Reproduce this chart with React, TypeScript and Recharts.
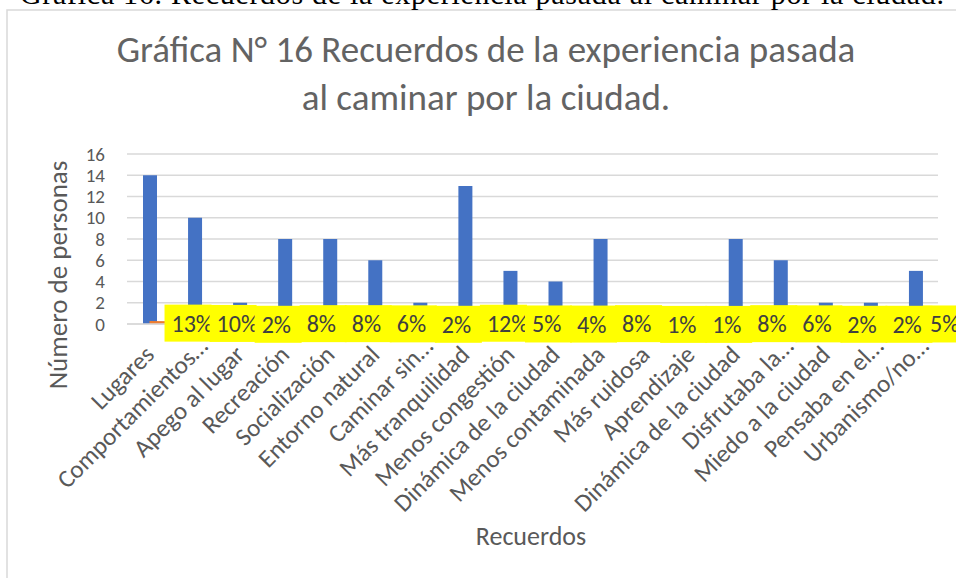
import { ComposedChart, Bar, Line, XAxis, YAxis, CartesianGrid } from 'recharts'

const categorias = [
  'Lugares', 'Comportamientos…', 'Apego al lugar', 'Recreación', 'Socialización',
  'Entorno natural', 'Caminar sin…', 'Más tranquilidad', 'Menos congestión',
  'Dinámica de la ciudad', 'Menos contaminada', 'Más ruidosa', 'Aprendizaje',
  'Dinámica de la ciudad', 'Disfrutaba la…', 'Miedo a la ciudad', 'Pensaba en el…', 'Urbanismo/no…',
]
const personas = [14, 10, 2, 8, 8, 6, 2, 13, 5, 4, 8, 1, 1, 8, 6, 2, 2, 5]
const porcentajes = [13, 10, 2, 8, 8, 6, 2, 12, 5, 4, 8, 1, 1, 8, 6, 2, 2, 5]
const yTicks = [0, 2, 4, 6, 8, 10, 12, 14, 16]

const W = 956
const H = 578
const FONT = 'Carlito, Calibri, Lato, sans-serif'
const GRAY = '#595959'

const data = categorias.map((name, idx) => ({
  idx,
  name,
  personas: personas[idx],
  pct: porcentajes[idx] / 100,
}))

const XTick = (props: any) => {
  const { x, y, payload } = props
  const label = categorias[payload.value]
  return (
    <text
      x={x}
      y={y}
      dx={label.endsWith('…') ? 12 : 0}
      dy="0.35em"
      transform={`rotate(-45 ${x} ${y})`}
      textAnchor="end"
      fill={GRAY}
      fontSize={25}
      fontFamily={FONT}
    >
      {label}
    </text>
  )
}

const PctLabel = (props: any) => {
  const { x, y, index } = props
  const left = Math.min(x + 15, W - 33)
  return (
    <g>
      <rect x={left} y={y - 18} width={47} height={37} fill="#FFFF00" />
      <text x={left + 7} y={y + 9} fill="#404040" fontSize={24} fontFamily={FONT}>
        {porcentajes[index]}%
      </text>
    </g>
  )
}

export default function App() {
  return (
    <div style={{ position: 'relative', width: W, height: H, overflow: 'hidden', background: '#fff' }}>
      <style>{'body{margin:0}'}</style>
      <ComposedChart
        width={W}
        height={H}
        data={data}
        margin={{ top: 154, right: 18, bottom: 224, left: 87 }}
        style={{ position: 'absolute', left: 0, top: 0 }}
      >
        <CartesianGrid vertical={false} stroke="#d9d9d9" strokeWidth={1.5} />
        <XAxis
          dataKey="idx"
          type="category"
          height={30}
          interval={0}
          axisLine={{ stroke: '#d9d9d9', strokeWidth: 1.5 }}
          tickLine={false}
          tickSize={0}
          tickMargin={26}
          tick={<XTick />}
        />
        <YAxis
          width={40}
          domain={[0, 16]}
          ticks={yTicks}
          interval={0}
          axisLine={false}
          tickLine={false}
          tickSize={0}
          tickMargin={22}
          tick={{ fill: GRAY, fontSize: 19, fontFamily: FONT }}
        />
        <Bar dataKey="personas" fill="#4472C4" barSize={14} isAnimationActive={false} />
        <Line
          dataKey="pct"
          stroke="#ED7D31"
          strokeWidth={3}
          dot={false}
          isAnimationActive={false}
          label={<PctLabel />}
        />
      </ComposedChart>
      <svg width={W} height={H} style={{ position: 'absolute', left: 0, top: 0, pointerEvents: 'none' }}>
        <rect x={7} y={10} width={1000} height={1000} fill="none" stroke="#d9d9d9" strokeWidth={1.5} />
        <text x={20} y={4} fontFamily="'Liberation Serif', 'Times New Roman', serif" fontSize={30} fill="#000" textLength={924}>
          Gráfica 16. Recuerdos de la experiencia pasada al caminar por la ciudad.
        </text>
        <text x={486} y={62} textAnchor="middle" fill="#636363" fontSize={37} fontWeight={300} fontFamily={FONT}>
          Gráfica N° 16 Recuerdos de la experiencia pasada
        </text>
        <text x={486} y={110} textAnchor="middle" fill="#636363" fontSize={37} fontWeight={300} fontFamily={FONT}>
          al caminar por la ciudad.
        </text>
        <text
          x={58}
          y={275}
          transform="rotate(-90 58 275)"
          textAnchor="middle"
          dy="0.35em"
          fill={GRAY}
          fontSize={27}
          fontFamily={FONT}
        >
          Número de personas
        </text>
        <text x={531} y={545} textAnchor="middle" fill={GRAY} fontSize={26} fontFamily={FONT}>
          Recuerdos
        </text>
      </svg>
    </div>
  )
}
